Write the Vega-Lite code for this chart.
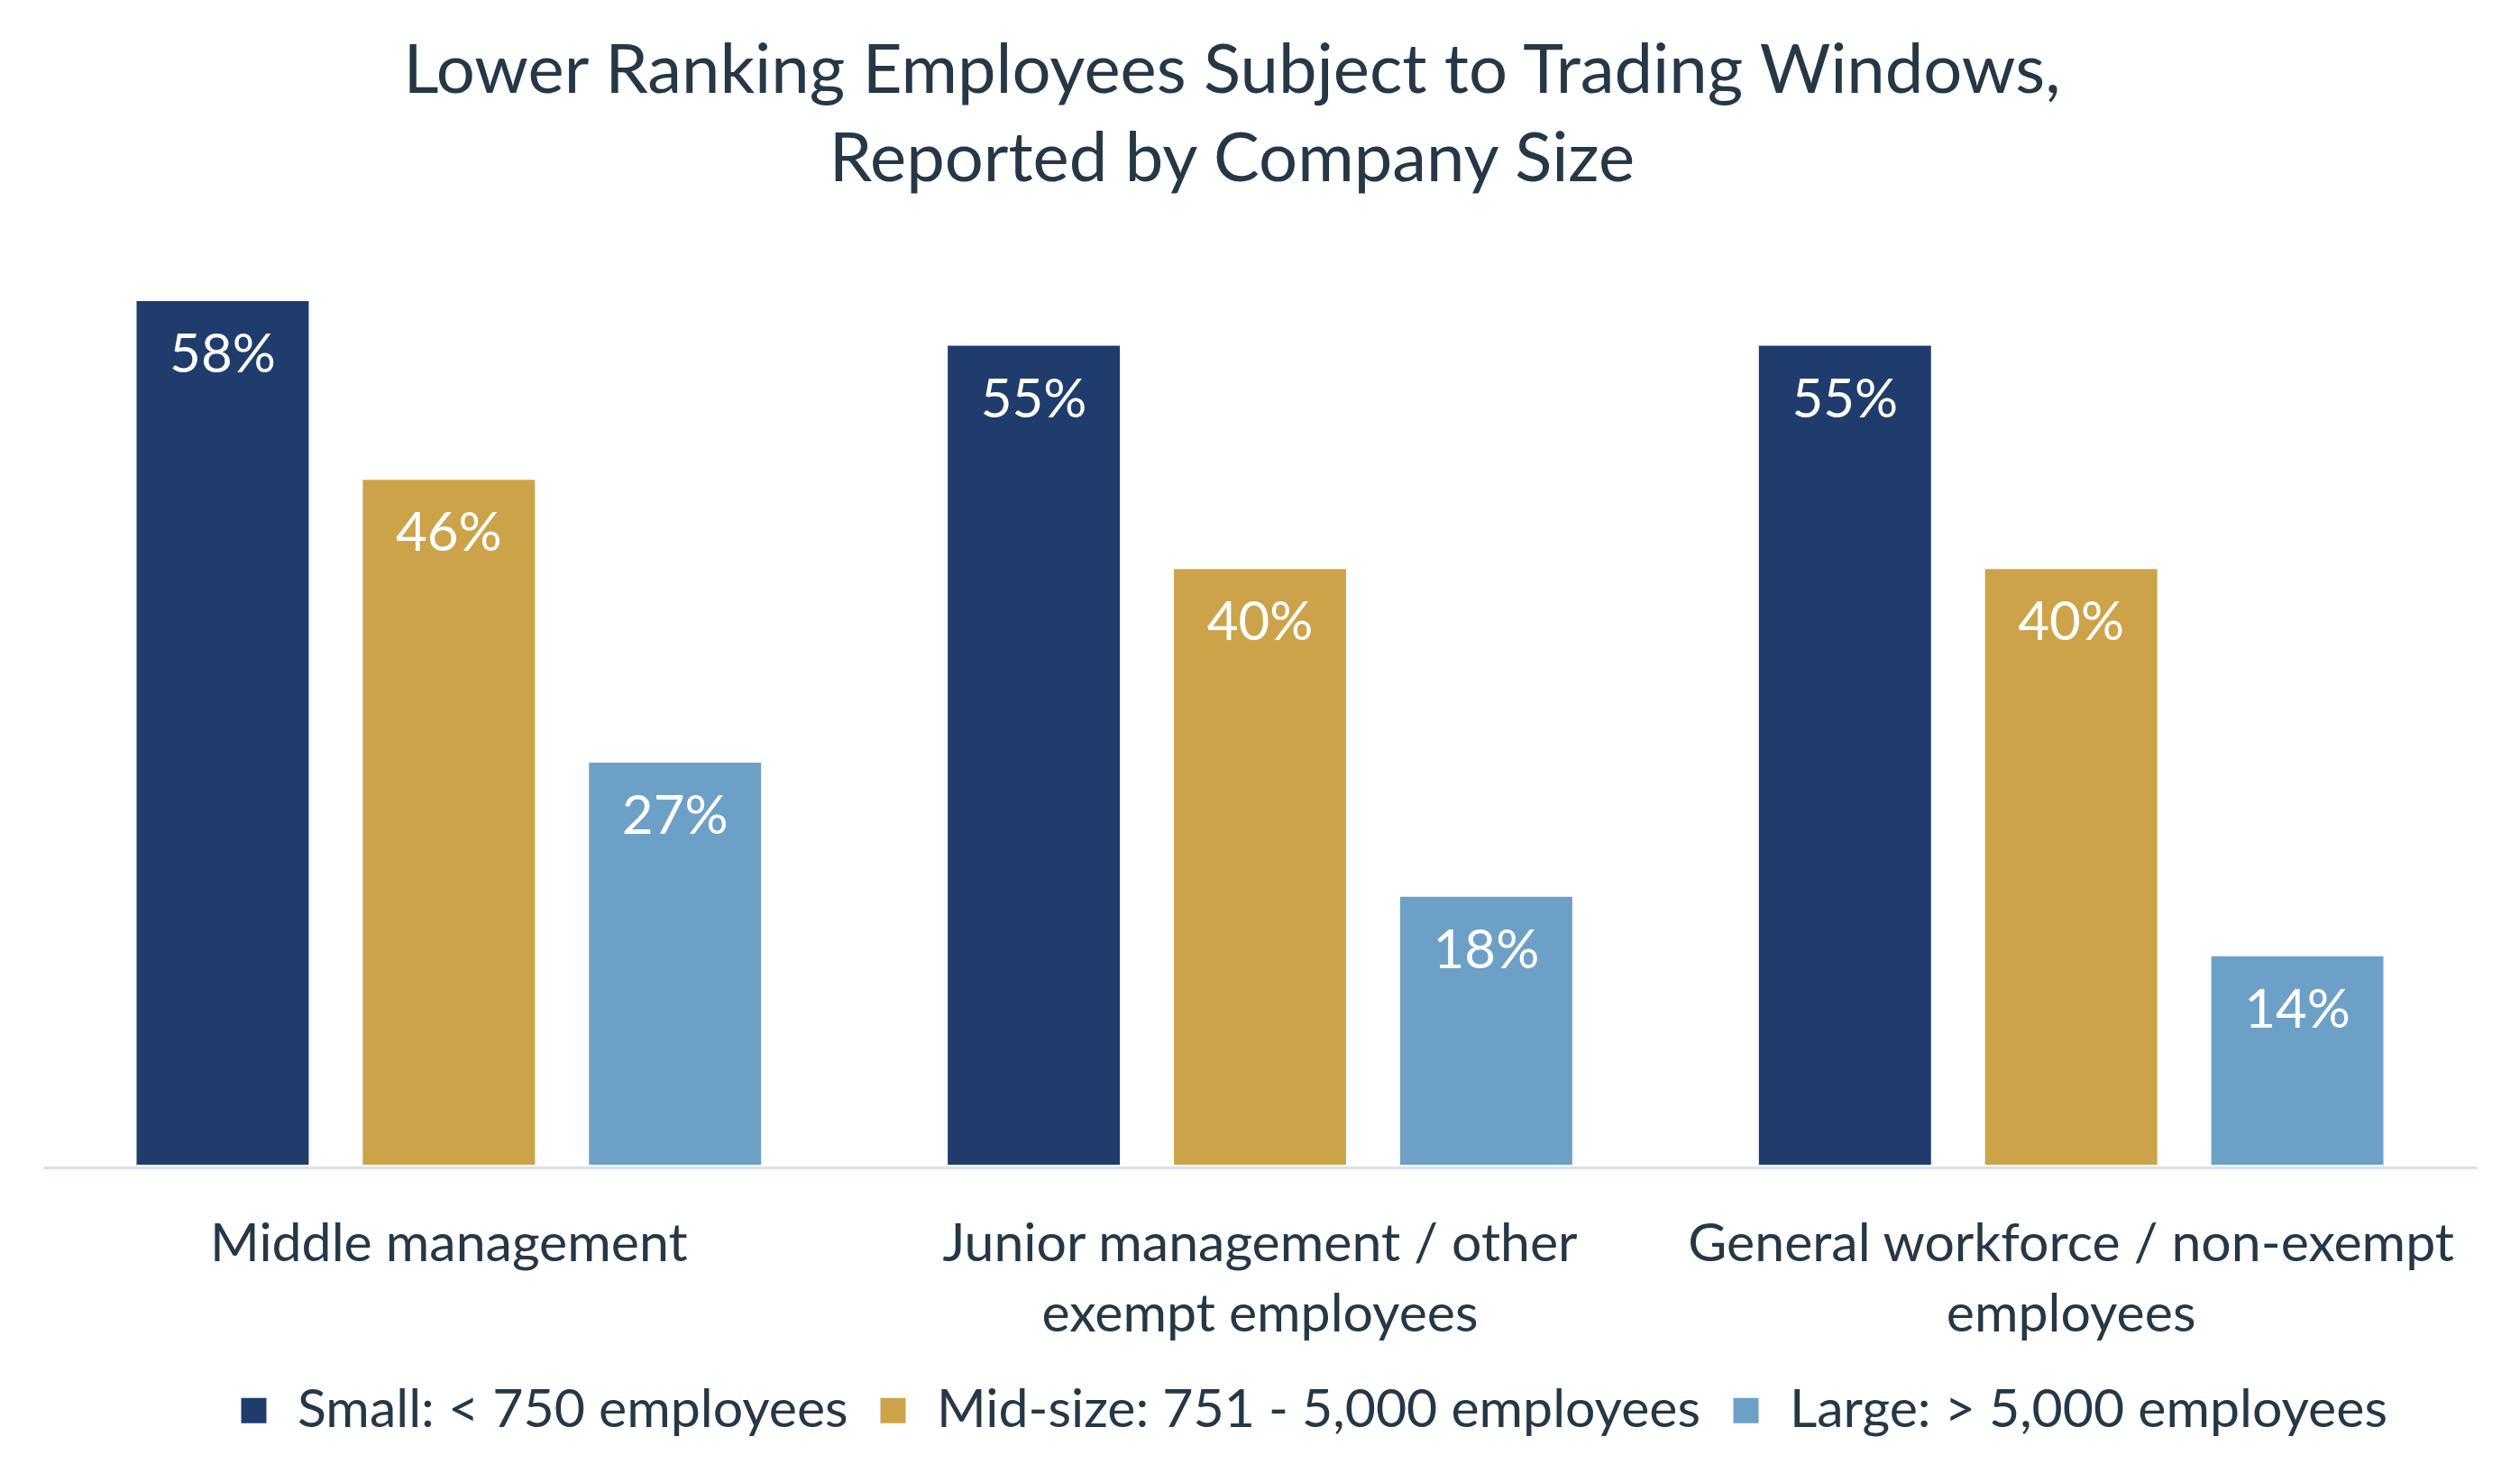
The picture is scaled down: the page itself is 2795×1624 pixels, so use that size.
{
  "$schema": "https://vega.github.io/schema/vega-lite/v6.json",
  "autosize": "none",
  "padding": {"left": 48, "top": 301, "right": 48, "bottom": 332},
  "width": 2699,
  "height": 991,
  "background": "white",
  "title": {
    "text": ["Lower Ranking Employees Subject to Trading Windows,", "Reported by Company Size"],
    "font": "Lato",
    "fontSize": 76,
    "fontWeight": "normal",
    "color": "#263746",
    "lineHeight": 98,
    "anchor": "middle",
    "baseline": "bottom",
    "offset": 8,
    "dx": -31
  },
  "config": {
    "view": {"stroke": null},
    "font": "Lato"
  },
  "data": {
    "values": [
      {"level": "Middle management", "size": "Small: < 750 employees", "value": 0.58},
      {"level": "Middle management", "size": "Mid-size: 751 - 5,000 employees", "value": 0.46},
      {"level": "Middle management", "size": "Large: > 5,000 employees", "value": 0.27},
      {"level": "Junior management / other exempt employees", "size": "Small: < 750 employees", "value": 0.55},
      {"level": "Junior management / other exempt employees", "size": "Mid-size: 751 - 5,000 employees", "value": 0.40},
      {"level": "Junior management / other exempt employees", "size": "Large: > 5,000 employees", "value": 0.18},
      {"level": "General workforce / non-exempt employees", "size": "Small: < 750 employees", "value": 0.55},
      {"level": "General workforce / non-exempt employees", "size": "Mid-size: 751 - 5,000 employees", "value": 0.40},
      {"level": "General workforce / non-exempt employees", "size": "Large: > 5,000 employees", "value": 0.14}
    ]
  },
  "encoding": {
    "x": {
      "field": "level",
      "type": "nominal",
      "sort": ["Middle management", "Junior management / other exempt employees", "General workforce / non-exempt employees"],
      "scale": {"paddingInner": 0, "paddingOuter": 0},
      "axis": {
        "title": null,
        "labelAngle": 0,
        "labelFont": "Lato",
        "labelFontSize": 59,
        "labelColor": "#263746",
        "labelLineHeight": 78,
        "labelBaseline": "top",
        "labelPadding": 56,
        "labelLimit": 2000,
        "ticks": false,
        "tickSize": 0,
        "offset": 3,
        "domainColor": "#D9E2EA",
        "domainWidth": 3,
        "labelExpr": "datum.label == 'Junior management / other exempt employees' ? ['Junior management / other', 'exempt employees'] : datum.label == 'General workforce / non-exempt employees' ? ['General workforce / non-exempt', 'employees'] : datum.label"
      }
    },
    "xOffset": {
      "field": "size",
      "type": "nominal",
      "sort": ["Small: < 750 employees", "Mid-size: 751 - 5,000 employees", "Large: > 5,000 employees"],
      "scale": {"paddingInner": 0.239, "paddingOuter": 0.4125}
    },
    "y": {
      "field": "value",
      "type": "quantitative",
      "scale": {"domain": [0, 0.6], "nice": false},
      "axis": null
    }
  },
  "layer": [
    {
      "mark": {"type": "bar"},
      "encoding": {
        "color": {
          "field": "size",
          "type": "nominal",
          "sort": ["Small: < 750 employees", "Mid-size: 751 - 5,000 employees", "Large: > 5,000 employees"],
          "scale": {
            "domain": ["Small: < 750 employees", "Mid-size: 751 - 5,000 employees", "Large: > 5,000 employees"],
            "range": ["#1F3C6C", "#CCA349", "#6DA0C6"]
          },
          "legend": {
            "title": null,
            "orient": "none",
            "direction": "horizontal",
            "legendX": 204,
            "legendY": 1234,
            "symbolType": "square",
            "symbolSize": 784,
            "symbolStrokeWidth": 0,
            "labelFont": "Lato",
            "labelFontSize": 59,
            "labelColor": "#263746",
            "labelOffset": 19,
            "labelLimit": 2000,
            "columnPadding": 20
          }
        }
      }
    },
    {
      "mark": {"type": "text", "baseline": "top", "dy": 32, "font": "Lato", "fontSize": 60, "color": "white"},
      "encoding": {
        "text": {"field": "value", "type": "quantitative", "format": ".0%"}
      }
    }
  ]
}
